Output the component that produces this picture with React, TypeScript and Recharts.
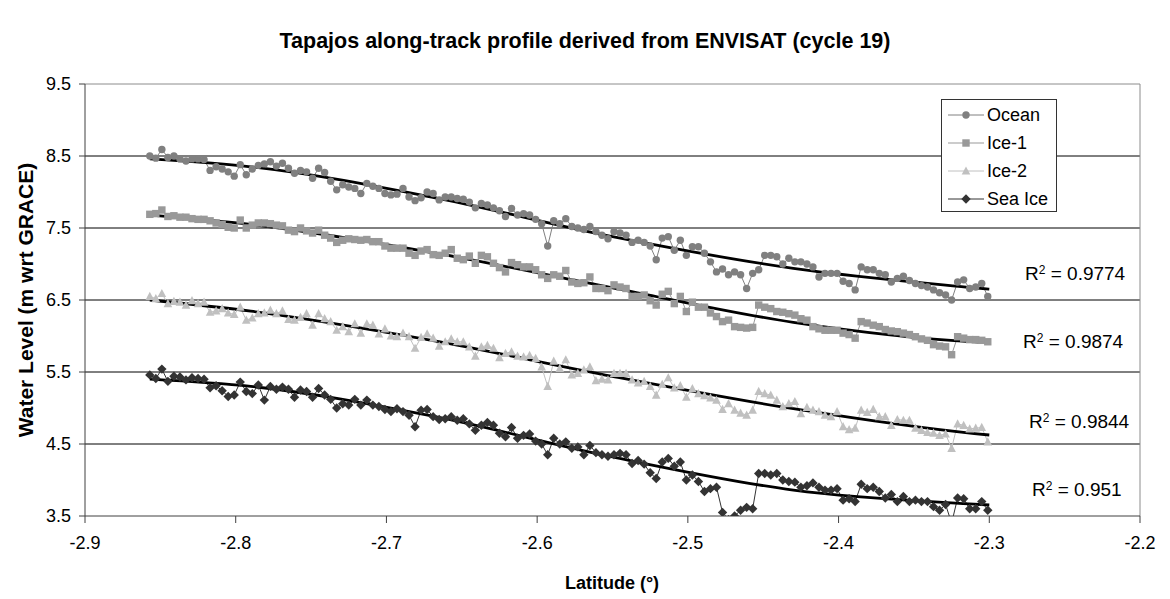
import { LineChart, Line, XAxis, YAxis, CartesianGrid, ReferenceLine } from "recharts";

// latitude of each along-track measurement (deg)
const lat = [
  -2.857, -2.853, -2.849, -2.845, -2.841, -2.837, -2.833, -2.829, -2.825, -2.821,
  -2.817, -2.813, -2.809, -2.805, -2.801, -2.797, -2.793, -2.789, -2.785, -2.781,
  -2.777, -2.773, -2.769, -2.765, -2.761, -2.757, -2.753, -2.749, -2.745, -2.741,
  -2.737, -2.733, -2.729, -2.725, -2.721, -2.717, -2.713, -2.709, -2.705, -2.701,
  -2.697, -2.693, -2.689, -2.685, -2.681, -2.677, -2.673, -2.669, -2.665, -2.661,
  -2.657, -2.653, -2.649, -2.645, -2.641, -2.637, -2.633, -2.629, -2.625, -2.621,
  -2.617, -2.613, -2.609, -2.605, -2.601, -2.597, -2.593, -2.589, -2.585, -2.581,
  -2.577, -2.573, -2.569, -2.565, -2.561, -2.557, -2.553, -2.549, -2.545, -2.541,
  -2.537, -2.533, -2.529, -2.525, -2.521, -2.517, -2.513, -2.509, -2.505, -2.501,
  -2.497, -2.493, -2.489, -2.485, -2.481, -2.477, -2.473, -2.469, -2.465, -2.461,
  -2.457, -2.453, -2.449, -2.445, -2.441, -2.437, -2.433, -2.429, -2.425, -2.421,
  -2.417, -2.413, -2.409, -2.405, -2.401, -2.397, -2.393, -2.389, -2.385, -2.381,
  -2.377, -2.373, -2.369, -2.365, -2.361, -2.357, -2.353, -2.349, -2.345, -2.341,
  -2.337, -2.333, -2.329, -2.325, -2.321, -2.317, -2.313, -2.309, -2.305, -2.301,
];

const ocean = [
  8.50, 8.47, 8.59, 8.48, 8.50, 8.46, 8.43, 8.46, 8.46, 8.45,
  8.30, 8.35, 8.32, 8.28, 8.22, 8.38, 8.24, 8.32, 8.37, 8.39,
  8.42, 8.36, 8.40, 8.33, 8.26, 8.30, 8.28, 8.19, 8.33, 8.27,
  8.15, 8.03, 8.10, 8.07, 8.05, 7.98, 8.12, 8.08, 8.05, 7.98,
  7.96, 7.97, 8.05, 7.93, 7.88, 7.92, 8.00, 7.98, 7.89, 7.93,
  7.93, 7.91, 7.90, 7.86, 7.78, 7.84, 7.82, 7.78, 7.74, 7.66,
  7.77, 7.68, 7.70, 7.68, 7.62, 7.56, 7.25, 7.60, 7.56, 7.63,
  7.52, 7.50, 7.48, 7.52, 7.45, 7.40, 7.35, 7.45, 7.43, 7.40,
  7.30, 7.33, 7.30, 7.25, 7.06, 7.36, 7.38, 7.19, 7.33, 7.12,
  7.24, 7.24, 7.15, 7.03, 6.89, 6.93, 6.85, 6.89, 6.85, 6.66,
  6.87, 6.92, 7.12, 7.12, 7.10, 7.00, 7.08, 7.03, 7.03, 7.00,
  6.96, 6.82, 6.87, 6.87, 6.87, 6.76, 6.73, 6.64, 6.96, 6.92,
  6.92, 6.87, 6.85, 6.75, 6.80, 6.83, 6.77, 6.73, 6.70, 6.68,
  6.64, 6.60, 6.57, 6.50, 6.75, 6.78, 6.66, 6.68, 6.73, 6.55,
];

const ice1 = [
  7.69, 7.70, 7.75, 7.66, 7.67, 7.65, 7.65, 7.63, 7.62, 7.62,
  7.60, 7.57, 7.55, 7.51, 7.50, 7.61, 7.50, 7.54, 7.57, 7.57,
  7.56, 7.54, 7.53, 7.47, 7.45, 7.50, 7.46, 7.43, 7.47, 7.40,
  7.36, 7.30, 7.33, 7.35, 7.34, 7.33, 7.34, 7.31, 7.31, 7.25,
  7.22, 7.22, 7.22, 7.15, 7.12, 7.18, 7.20, 7.13, 7.12, 7.15,
  7.20, 7.08, 7.06, 7.11, 7.01, 7.12, 7.10, 7.01, 6.95, 6.89,
  7.02, 6.99, 6.96, 6.96, 6.92, 6.85, 6.80, 6.85, 6.83, 6.91,
  6.75, 6.73, 6.74, 6.82, 6.66, 6.66, 6.63, 6.71, 6.68, 6.66,
  6.55, 6.55, 6.57, 6.49, 6.43, 6.58, 6.62, 6.45, 6.55, 6.34,
  6.47, 6.40, 6.40, 6.32, 6.27, 6.20, 6.22, 6.13, 6.12, 6.11,
  6.12, 6.43, 6.40, 6.38, 6.34, 6.33, 6.31, 6.29, 6.24, 6.22,
  6.13, 6.10, 6.08, 6.08, 6.08, 6.04, 6.02, 5.97, 6.20, 6.18,
  6.15, 6.13, 6.09, 6.07, 6.06, 6.04, 6.02, 5.99, 5.96, 5.94,
  5.88, 5.86, 5.85, 5.74, 5.99, 5.97, 5.95, 5.95, 5.94, 5.92,
];

const ice2 = [
  6.55, 6.52, 6.59, 6.45, 6.48, 6.47, 6.43, 6.49, 6.45, 6.47,
  6.33, 6.35, 6.38, 6.32, 6.30, 6.40, 6.22, 6.25, 6.31, 6.32,
  6.36, 6.31, 6.35, 6.23, 6.22, 6.26, 6.31, 6.15, 6.31, 6.24,
  6.20, 6.08, 6.13, 6.06, 6.17, 6.04, 6.17, 6.15, 6.03, 6.10,
  6.00, 5.99, 6.04, 5.99, 5.83, 5.98, 6.03, 5.97, 5.86, 5.92,
  5.96, 5.92, 5.92, 5.85, 5.72, 5.85, 5.87, 5.83, 5.70, 5.76,
  5.78, 5.72, 5.71, 5.73, 5.69, 5.57, 5.30, 5.65, 5.55, 5.67,
  5.46, 5.48, 5.53, 5.57, 5.38, 5.40, 5.39, 5.48, 5.48, 5.48,
  5.39, 5.35, 5.37, 5.30, 5.18, 5.33, 5.42, 5.28, 5.31, 5.15,
  5.27, 5.20, 5.17, 5.14, 5.11, 4.98, 5.06, 4.97, 4.93, 4.90,
  4.97, 5.23, 5.20, 5.18, 5.11, 5.02, 5.06, 5.09, 4.92, 5.01,
  4.97, 4.95, 4.90, 4.88, 4.95, 4.74, 4.70, 4.72, 4.97, 4.94,
  4.98, 4.88, 4.88, 4.76, 4.84, 4.83, 4.83, 4.72, 4.69, 4.66,
  4.65, 4.62, 4.64, 4.44, 4.78, 4.76, 4.71, 4.72, 4.73, 4.53,
];

const seaIce = [
  5.46, 5.41, 5.54, 5.37, 5.44, 5.43, 5.39, 5.42, 5.41, 5.40,
  5.28, 5.31, 5.24, 5.16, 5.18, 5.36, 5.23, 5.20, 5.32, 5.11,
  5.30, 5.26, 5.29, 5.26, 5.15, 5.25, 5.23, 5.15, 5.27, 5.18,
  5.12, 5.00, 5.06, 5.04, 5.12, 5.04, 5.11, 5.04, 5.02, 4.98,
  4.95, 4.99, 4.95, 4.90, 4.74, 4.97, 4.98, 4.88, 4.84, 4.85,
  4.88, 4.83, 4.85, 4.78, 4.69, 4.76, 4.80, 4.76, 4.65, 4.60,
  4.73, 4.58, 4.62, 4.64, 4.54, 4.50, 4.35, 4.58, 4.50, 4.53,
  4.44, 4.46, 4.35, 4.48, 4.38, 4.35, 4.33, 4.35, 4.37, 4.35,
  4.23, 4.27, 4.22, 4.10, 4.02, 4.25, 4.30, 4.19, 4.25, 4.00,
  4.07, 3.98, 3.84, 3.88, 3.90, 3.55, 3.45, 3.50, 3.58, 3.62,
  3.60, 4.09, 4.09, 4.07, 4.09, 4.00, 3.98, 3.97, 3.90, 3.92,
  3.96, 3.90, 3.86, 3.86, 3.88, 3.72, 3.74, 3.70, 3.94, 3.88,
  3.90, 3.84, 3.75, 3.80, 3.70, 3.77, 3.70, 3.72, 3.70, 3.70,
  3.63, 3.58, 3.66, 3.40, 3.75, 3.74, 3.60, 3.60, 3.70, 3.58,
];

// polynomial trend lines, read at a few latitudes
const trendLat = [-2.857, -2.79, -2.67, -2.55, -2.43, -2.31, -2.3];
const oceanTrend = [8.46, 8.35, 7.93, 7.38, 6.94, 6.67, 6.65];
const ice1Trend = [7.68, 7.55, 7.16, 6.67, 6.19, 5.92, 5.91];
const ice2Trend = [6.5, 6.345, 5.94, 5.44, 4.99, 4.645, 4.625];
const seaIceTrend = [5.4, 5.3, 4.89, 4.32, 3.86, 3.665, 3.653];

const r2Labels = ["0.9774", "0.9874", "0.9844", "0.951"];
const xTicks = [-2.9, -2.8, -2.7, -2.6, -2.5, -2.4, -2.3, -2.2];
const yTicks = [3.5, 4.5, 5.5, 6.5, 7.5, 8.5, 9.5];

const FONT = '"Liberation Sans", Arial, sans-serif';
const C_OCEAN = "#808080";
const C_ICE1 = "#999999";
const C_ICE2 = "#c0c0c0";
const C_SEA = "#333333";

const rows = (vals: number[]) => lat.map((x, i) => ({ lat: x, v: vals[i] }));
const trendRows = (vals: number[]) => trendLat.map((x, i) => ({ lat: x, v: vals[i] }));

type Shape = "circle" | "square" | "triangle" | "diamond";

function marker(shape: Shape, cx: number, cy: number, color: string, key?: string) {
  if (shape === "circle") return <circle key={key} cx={cx} cy={cy} r={3.7} fill={color} />;
  if (shape === "square") return <rect key={key} x={cx - 3.7} y={cy - 3.7} width={7.4} height={7.4} fill={color} />;
  if (shape === "triangle")
    return <polygon key={key} points={`${cx},${cy - 4.6} ${cx + 4.3},${cy + 3.6} ${cx - 4.3},${cy + 3.6}`} fill={color} />;
  return <polygon key={key} points={`${cx},${cy - 4.7} ${cx + 4.7},${cy} ${cx},${cy + 4.7} ${cx - 4.7},${cy}`} fill={color} />;
}

const dotFn = (shape: Shape, color: string) => (p: any) => {
  if (p.cx == null || p.cy == null) return <g key={`n${p.index}`} />;
  return marker(shape, p.cx, p.cy, color, `${shape}${p.index}`);
};

const series: { name: string; vals: number[]; color: string; shape: Shape }[] = [
  { name: "Ocean", vals: ocean, color: C_OCEAN, shape: "circle" },
  { name: "Ice-1", vals: ice1, color: C_ICE1, shape: "square" },
  { name: "Ice-2", vals: ice2, color: C_ICE2, shape: "triangle" },
  { name: "Sea Ice", vals: seaIce, color: C_SEA, shape: "diamond" },
];

const trends = [oceanTrend, ice1Trend, ice2Trend, seaIceTrend];

// R² label positions (left, centre y) in px
const r2Pos = [
  [1025, 274],
  [1023, 342],
  [1029, 422],
  [1032, 490],
];

export default function App() {
  return (
    <div style={{ position: "relative", width: 1170, height: 599, background: "#fff", fontFamily: FONT, color: "#000" }}>
      <style>{"body{margin:0}"}</style>
      <LineChart width={1170} height={599} margin={{ top: 84, right: 30, bottom: 43, left: 25 }}>
        <CartesianGrid vertical={false} horizontalValues={[4.5, 5.5, 6.5, 7.5, 8.5]} stroke="#000" />
        <XAxis
          type="number"
          dataKey="lat"
          domain={[-2.9, -2.2]}
          ticks={xTicks}
          allowDataOverflow
          tickFormatter={(v) => v.toFixed(1)}
          height={40}
          tickSize={7}
          tickMargin={13}
          stroke="#404040"
          tick={{ fill: "#000", fontSize: 18, fontFamily: FONT }}
        />
        <YAxis
          type="number"
          domain={[3.5, 9.5]}
          ticks={yTicks}
          allowDataOverflow
          tickFormatter={(v) => v.toFixed(1)}
          width={60}
          tickSize={6}
          tickMargin={8}
          stroke="#404040"
          tick={{ fill: "#000", fontSize: 18, fontFamily: FONT }}
        />
        <ReferenceLine y={9.5} stroke="#8c8c8c" />
        <ReferenceLine x={-2.2} stroke="#8c8c8c" />
        {series.map((s) => (
          <Line
            key={s.name}
            data={rows(s.vals)}
            dataKey="v"
            stroke={s.color}
            strokeWidth={1}
            dot={dotFn(s.shape, s.color)}
            activeDot={false}
            isAnimationActive={false}
          />
        ))}
        {trends.map((t, i) => (
          <Line
            key={`trend${i}`}
            data={trendRows(t)}
            dataKey="v"
            type="monotone"
            stroke="#000"
            strokeWidth={2.8}
            dot={false}
            activeDot={false}
            isAnimationActive={false}
          />
        ))}
      </LineChart>

      <div style={{ position: "absolute", left: 0, top: 29, width: 1170, textAlign: "center", fontSize: 21.5, fontWeight: "bold", lineHeight: "24px" }}>
        Tapajos along-track profile derived from ENVISAT (cycle 19)
      </div>
      <div style={{ position: "absolute", left: 412, top: 572, width: 400, textAlign: "center", fontSize: 18, fontWeight: "bold", lineHeight: "22px" }}>
        Latitude (°)
      </div>
      <div
        style={{
          position: "absolute",
          left: 26 - 200,
          top: 300 - 12,
          width: 400,
          textAlign: "center",
          fontSize: 21,
          fontWeight: "bold",
          lineHeight: "24px",
          transform: "rotate(-90deg)",
        }}
      >
        Water Level (m wrt GRACE)
      </div>

      {r2Labels.map((r, i) => (
        <div key={r} style={{ position: "absolute", left: r2Pos[i][0], top: r2Pos[i][1] - 11, fontSize: 19, lineHeight: "22px", whiteSpace: "nowrap" }}>
          R<sup style={{ fontSize: 12, verticalAlign: "top", position: "relative", top: -4 }}>2</sup> = {r}
        </div>
      ))}

      <div style={{ position: "absolute", left: 941, top: 99, width: 114, height: 111, border: "1px solid #333", background: "#fff" }}>
        {series.map((s, i) => (
          <div key={s.name} style={{ position: "absolute", left: 5, top: 4 + i * 28, height: 22, display: "flex", alignItems: "center" }}>
            <svg width={38} height={22}>
              <line x1={1} y1={11} x2={37} y2={11} stroke={s.color} strokeWidth={1} />
              {marker(s.shape, 19, 11, s.color)}
            </svg>
            <span style={{ fontSize: 18, marginLeft: 2, whiteSpace: "nowrap" }}>{s.name}</span>
          </div>
        ))}
      </div>
    </div>
  );
}
